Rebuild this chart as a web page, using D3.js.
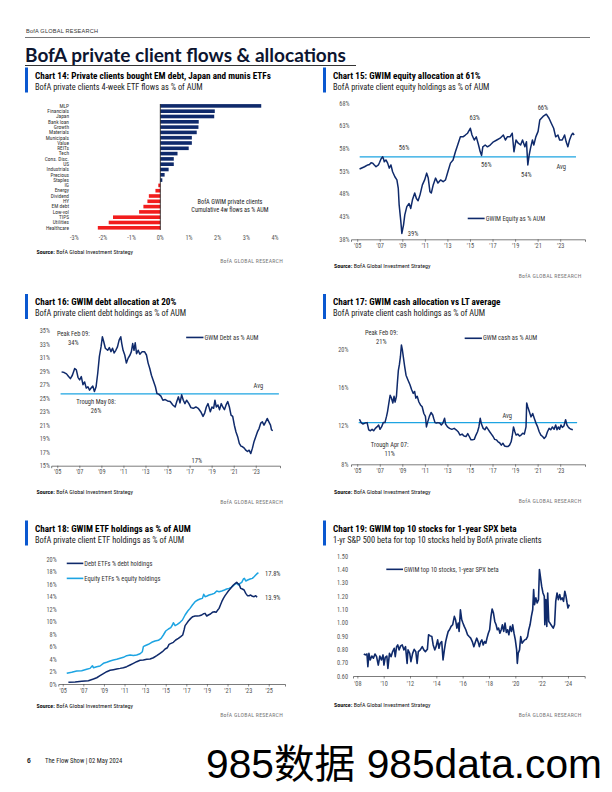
<!DOCTYPE html>
<html><head><meta charset="utf-8">
<script src="https://cdn.jsdelivr.net/npm/d3@7"></script>
<style>body{margin:0;background:#fff}svg{display:block}</style>
</head><body><svg id="page" width="612" height="792"></svg>
<script>
// ---------------- DATA ----------------
const flowCategories = ["MLP","Financials","Japan","Bank loan","Growth","Materials","Municipals","Value","REITs","Tech","Cons. Disc.","US","Industrials","Precious","Staples","IG","Energy","Dividend","HY","EM debt","Low-vol","TIPS","Utilities","Healthcare"];
const flowValues = [3.52,1.90,1.88,1.34,1.33,1.27,1.10,1.10,0.99,0.60,0.47,0.47,0.29,0.15,0.07,-0.07,-0.17,-0.40,-0.45,-0.59,-0.74,-1.65,-1.80,-2.18];
const flowTicks = [-3,-2,-1,0,1,2,3,4];

const equitySeries = [[2005.21,53.5],[2005.65,54.0],[2005.94,54.4],[2006.09,54.5],[2006.23,54.9],[2006.38,54.8],[2006.52,54.4],[2006.67,54.0],[2006.88,54.4],[2006.99,55.0],[2007.11,55.7],[2007.26,56.2],[2007.35,55.6],[2007.4,55.1],[2007.55,55.5],[2007.7,54.8],[2007.84,53.7],[2007.99,54.4],[2008.14,52.9],[2008.34,51.8],[2008.52,51.1],[2008.64,49.3],[2008.72,45.6],[2008.87,41.9],[2008.96,39.3],[2009.11,41.2],[2009.22,43.4],[2009.4,45.2],[2009.6,45.9],[2009.75,44.8],[2009.9,46.7],[2010.1,48.2],[2010.25,47.0],[2010.4,46.5],[2010.57,47.8],[2010.78,50.0],[2010.98,51.1],[2011.16,52.6],[2011.3,51.5],[2011.45,48.5],[2011.57,48.2],[2011.74,50.0],[2011.95,51.5],[2012.16,50.4],[2012.39,51.1],[2012.62,50.7],[2012.83,51.1],[2013.04,52.9],[2013.27,54.8],[2013.5,55.5],[2013.71,57.3],[2013.91,58.8],[2014.15,60.6],[2014.38,60.6],[2014.59,61.0],[2014.79,61.4],[2015.03,62.5],[2015.18,61.0],[2015.38,59.9],[2015.56,60.6],[2015.76,58.8],[2015.91,57.3],[2016.03,56.5],[2016.14,58.4],[2016.35,58.8],[2016.55,58.4],[2016.79,58.8],[2017.08,59.5],[2017.38,59.9],[2017.67,60.3],[2017.96,61.0],[2018.14,59.9],[2018.31,60.6],[2018.55,60.6],[2018.75,61.4],[2018.9,57.3],[2019.08,59.9],[2019.28,59.2],[2019.49,58.8],[2019.66,59.9],[2019.87,58.4],[2020.01,59.5],[2020.13,54.4],[2020.25,56.6],[2020.37,58.1],[2020.54,59.9],[2020.66,58.8],[2020.84,60.6],[2021.04,61.8],[2021.19,64.3],[2021.48,65.1],[2021.77,65.6],[2022.01,64.7],[2022.21,63.6],[2022.42,62.5],[2022.6,60.6],[2022.8,61.0],[2022.95,59.9],[2023.18,59.9],[2023.39,61.0],[2023.53,59.5],[2023.68,58.4],[2023.83,59.9],[2024.0,61.0],[2024.12,61.4],[2024.24,61.0]];
const equityAvg = 56.2;

const debtSeries = [[2005.39,28.9],[2005.63,28.8],[2005.84,28.6],[2005.99,28.3],[2006.19,27.9],[2006.37,28.4],[2006.58,29.4],[2006.73,29.2],[2006.88,28.1],[2007.03,27.7],[2007.18,28.2],[2007.33,27.0],[2007.48,27.4],[2007.63,26.5],[2007.78,26.7],[2007.93,26.2],[2008.07,26.5],[2008.22,26.8],[2008.37,26.0],[2008.52,26.7],[2008.67,28.7],[2008.82,31.2],[2008.97,32.6],[2009.09,34.1],[2009.21,33.4],[2009.36,32.4],[2009.57,32.1],[2009.72,32.5],[2009.87,31.9],[2010.01,32.4],[2010.16,31.7],[2010.31,32.1],[2010.46,32.6],[2010.61,33.6],[2010.76,34.1],[2010.85,33.1],[2010.97,32.1],[2011.12,31.4],[2011.27,30.2],[2011.42,30.9],[2011.6,31.4],[2011.72,31.9],[2011.84,33.1],[2011.96,32.1],[2012.07,33.2],[2012.19,31.6],[2012.34,32.1],[2012.49,31.5],[2012.7,31.9],[2012.91,31.9],[2013.09,31.4],[2013.24,30.2],[2013.39,29.4],[2013.54,28.4],[2013.69,27.7],[2013.9,26.7],[2014.04,25.7],[2014.19,25.6],[2014.4,25.3],[2014.58,24.7],[2014.79,24.8],[2015.0,24.6],[2015.24,24.5],[2015.48,24.0],[2015.69,23.7],[2015.84,24.5],[2015.99,25.2],[2016.13,24.3],[2016.28,25.5],[2016.43,24.7],[2016.58,24.2],[2016.73,24.7],[2016.94,24.2],[2017.12,23.6],[2017.33,23.5],[2017.57,23.7],[2017.78,23.5],[2018.01,23.0],[2018.22,22.3],[2018.37,22.8],[2018.52,23.7],[2018.67,24.2],[2018.88,23.0],[2019.03,23.7],[2019.18,23.5],[2019.3,24.7],[2019.42,23.7],[2019.57,24.0],[2019.72,23.3],[2019.87,24.2],[2020.01,23.7],[2020.16,23.3],[2020.31,24.0],[2020.46,24.5],[2020.61,23.7],[2020.76,22.5],[2020.91,22.3],[2021.06,21.0],[2021.21,20.0],[2021.36,19.3],[2021.51,18.3],[2021.66,17.9],[2021.81,17.8],[2021.96,17.6],[2022.1,17.3],[2022.25,17.1],[2022.4,17.3],[2022.55,16.8],[2022.7,17.6],[2022.85,18.6],[2023.0,19.3],[2023.15,20.0],[2023.3,20.5],[2023.45,21.3],[2023.6,21.5],[2023.75,21.0],[2023.9,21.5],[2024.04,22.0],[2024.19,21.5],[2024.34,21.0],[2024.43,20.3],[2024.55,20.2]];
const debtAvg = 25.65;

const cashSeries = [[2005.2,12.7],[2005.35,12.35],[2005.5,12.2],[2005.7,12.3],[2005.88,12.35],[2006.02,11.6],[2006.17,11.5],[2006.32,11.65],[2006.46,11.5],[2006.61,11.75],[2006.75,11.9],[2006.9,12.1],[2007.02,11.65],[2007.16,11.9],[2007.31,12.35],[2007.46,12.35],[2007.6,13.0],[2007.69,13.5],[2007.81,14.4],[2007.92,15.2],[2008.04,14.9],[2008.16,14.4],[2008.27,15.1],[2008.36,14.5],[2008.48,15.1],[2008.57,16.6],[2008.65,17.8],[2008.74,18.4],[2008.83,19.2],[2008.92,20.45],[2009.01,19.9],[2009.09,19.2],[2009.21,18.2],[2009.33,17.3],[2009.5,16.8],[2009.68,16.3],[2009.82,15.8],[2009.97,15.4],[2010.09,15.6],[2010.2,14.9],[2010.32,15.1],[2010.47,14.5],[2010.61,14.2],[2010.76,14.0],[2010.91,13.3],[2011.05,13.0],[2011.14,11.9],[2011.26,12.45],[2011.4,13.0],[2011.55,13.4],[2011.7,13.15],[2011.78,12.8],[2011.9,12.35],[2012.02,12.3],[2012.16,12.35],[2012.31,12.3],[2012.46,12.1],[2012.6,12.3],[2012.75,12.8],[2012.84,12.2],[2013.01,11.9],[2013.19,11.75],[2013.39,11.65],[2013.6,11.75],[2013.77,11.6],[2013.95,11.4],[2014.12,11.05],[2014.3,11.15],[2014.47,10.95],[2014.65,10.9],[2014.8,11.2],[2014.94,10.9],[2015.09,10.55],[2015.23,10.55],[2015.38,10.6],[2015.53,11.05],[2015.67,11.4],[2015.79,11.9],[2015.91,12.8],[2016.02,12.2],[2016.17,11.75],[2016.32,11.6],[2016.46,11.9],[2016.61,11.65],[2016.75,11.4],[2016.9,11.15],[2017.05,10.9],[2017.19,10.6],[2017.34,10.55],[2017.49,10.35],[2017.63,10.25],[2017.78,10.0],[2017.92,10.2],[2018.07,9.9],[2018.22,9.85],[2018.36,9.85],[2018.51,10.0],[2018.65,10.35],[2018.74,10.9],[2018.86,11.9],[2018.98,11.4],[2019.09,11.05],[2019.24,11.15],[2019.39,10.95],[2019.53,11.05],[2019.68,11.25],[2019.82,11.15],[2019.97,11.9],[2020.03,14.4],[2020.12,14.0],[2020.26,13.5],[2020.41,12.95],[2020.56,13.3],[2020.7,12.8],[2020.85,12.3],[2021.0,11.9],[2021.14,11.4],[2021.29,11.05],[2021.44,10.9],[2021.58,10.7],[2021.73,10.9],[2021.87,11.4],[2022.02,11.75],[2022.16,11.6],[2022.31,11.9],[2022.46,11.65],[2022.6,12.1],[2022.72,11.6],[2022.84,11.9],[2022.95,11.65],[2023.07,12.1],[2023.19,11.85],[2023.33,12.0],[2023.48,12.65],[2023.6,12.1],[2023.71,11.9],[2023.83,11.75],[2023.98,11.65],[2024.12,11.6]];
const cashAvg = 12.35;

const debtEtfSeries = [[2005.55,0.27],[2006.2,0.32],[2006.84,0.43],[2007.49,0.53],[2007.98,0.8],[2008.3,1.0],[2008.62,1.33],[2008.95,1.65],[2009.27,1.97],[2009.6,2.19],[2009.92,2.29],[2010.24,2.4],[2010.57,2.5],[2010.89,2.61],[2011.21,2.77],[2011.54,3.04],[2011.86,3.31],[2012.18,3.57],[2012.51,3.79],[2012.83,3.84],[2013.16,3.95],[2013.48,4.0],[2013.8,4.2],[2014.13,4.53],[2014.45,4.9],[2014.68,5.17],[2014.94,5.6],[2015.16,5.8],[2015.32,6.35],[2015.52,6.5],[2015.74,6.67],[2015.97,7.04],[2016.23,7.3],[2016.46,7.57],[2016.65,7.84],[2016.78,8.64],[2016.88,9.33],[2017.04,9.7],[2017.2,10.08],[2017.43,10.5],[2017.62,10.77],[2017.85,10.88],[2018.07,10.88],[2018.27,10.93],[2018.5,11.04],[2018.69,11.25],[2018.82,11.3],[2018.98,10.88],[2019.14,11.04],[2019.34,11.2],[2019.53,11.47],[2019.72,11.57],[2019.89,11.47],[2020.05,11.84],[2020.18,12.1],[2020.31,12.64],[2020.44,13.17],[2020.6,13.7],[2020.76,14.13],[2020.92,14.5],[2021.08,14.88],[2021.25,15.2],[2021.41,15.52],[2021.57,15.84],[2021.73,16.05],[2021.89,16.27],[2021.99,16.11],[2022.12,15.95],[2022.28,15.3],[2022.44,15.2],[2022.61,15.04],[2022.77,14.5],[2022.93,14.13],[2023.09,14.13],[2023.25,14.24],[2023.41,14.03],[2023.58,13.97],[2023.74,14.13],[2023.87,13.87]];
const equityEtfSeries = [[2005.39,1.71],[2005.87,1.87],[2006.36,2.08],[2006.84,2.13],[2007.33,2.35],[2007.65,2.5],[2007.88,2.93],[2007.98,2.61],[2008.3,2.77],[2008.62,2.88],[2008.95,3.31],[2009.27,3.47],[2009.6,3.68],[2009.92,3.84],[2010.24,3.95],[2010.57,4.11],[2010.89,4.27],[2011.21,4.53],[2011.54,4.64],[2011.86,4.55],[2012.18,4.64],[2012.51,4.85],[2012.73,5.17],[2012.83,5.97],[2012.99,6.13],[2013.32,6.35],[2013.64,6.67],[2013.96,6.88],[2014.29,6.99],[2014.55,7.3],[2014.77,7.84],[2015.0,8.48],[2015.26,8.8],[2015.49,9.01],[2015.65,9.44],[2015.74,9.81],[2015.91,9.33],[2016.13,9.55],[2016.39,9.87],[2016.62,10.24],[2016.88,11.04],[2017.14,11.68],[2017.36,12.1],[2017.59,12.64],[2017.85,13.17],[2018.11,13.44],[2018.33,13.6],[2018.56,13.7],[2018.69,14.35],[2018.82,13.97],[2019.01,14.08],[2019.21,14.24],[2019.47,14.35],[2019.72,14.5],[2019.95,14.88],[2020.18,14.77],[2020.44,14.88],[2020.7,15.04],[2020.92,15.2],[2021.15,15.3],[2021.34,15.47],[2021.57,15.73],[2021.73,16.0],[2021.89,16.1],[2022.06,15.84],[2022.22,16.1],[2022.38,16.27],[2022.54,16.8],[2022.64,16.9],[2022.77,16.48],[2022.96,16.64],[2023.19,16.8],[2023.41,16.9],[2023.58,17.17],[2023.74,17.44],[2023.9,17.7],[2024.0,17.8]];

const betaSeries = [[2008.49,0.765],[2008.61,0.758],[2008.73,0.765],[2008.8,0.67],[2008.88,0.77],[2008.98,0.72],[2009.1,0.75],[2009.22,0.733],[2009.34,0.765],[2009.46,0.745],[2009.59,0.682],[2009.71,0.75],[2009.83,0.72],[2009.95,0.758],[2010.02,0.682],[2010.12,0.74],[2010.24,0.75],[2010.32,0.657],[2010.44,0.77],[2010.56,0.745],[2010.68,0.783],[2010.8,0.808],[2010.88,0.745],[2010.98,0.82],[2011.07,0.833],[2011.17,0.796],[2011.29,0.826],[2011.41,0.833],[2011.54,0.796],[2011.66,0.82],[2011.78,0.695],[2011.85,0.796],[2011.98,0.77],[2012.07,0.708],[2012.2,0.77],[2012.32,0.8],[2012.44,0.783],[2012.54,0.695],[2012.63,0.783],[2012.78,0.796],[2012.93,0.82],[2013.05,0.796],[2013.17,0.783],[2013.32,0.8],[2013.41,0.909],[2013.54,0.901],[2013.66,0.896],[2013.76,0.833],[2013.88,0.796],[2013.98,0.82],[2014.1,0.871],[2014.2,0.808],[2014.29,0.846],[2014.41,0.858],[2014.51,0.72],[2014.61,0.796],[2014.71,0.858],[2014.8,0.896],[2014.9,0.934],[2015.0,0.947],[2015.12,0.972],[2015.24,0.984],[2015.37,1.047],[2015.46,1.022],[2015.56,0.959],[2015.66,0.997],[2015.73,0.934],[2015.83,1.097],[2015.93,1.022],[2016.02,0.997],[2016.12,0.972],[2016.24,0.947],[2016.37,0.909],[2016.49,0.896],[2016.61,0.884],[2016.73,0.858],[2016.85,0.82],[2016.98,0.858],[2017.07,0.884],[2017.17,0.858],[2017.27,0.82],[2017.37,0.858],[2017.46,0.871],[2017.56,0.833],[2017.66,0.858],[2017.76,0.846],[2017.85,0.884],[2017.95,0.921],[2018.05,0.947],[2018.15,1.047],[2018.24,1.103],[2018.34,1.072],[2018.44,1.009],[2018.54,0.984],[2018.63,0.947],[2018.73,0.959],[2018.83,0.921],[2018.93,0.947],[2019.02,0.984],[2019.12,0.934],[2019.22,0.997],[2019.32,0.926],[2019.41,0.947],[2019.51,0.909],[2019.61,0.972],[2019.71,0.934],[2019.8,0.984],[2019.9,0.921],[2020.0,0.871],[2020.1,0.796],[2020.15,0.695],[2020.22,0.77],[2020.32,0.796],[2020.41,0.896],[2020.51,0.846],[2020.61,0.858],[2020.71,0.871],[2020.83,0.876],[2020.93,0.896],[2021.02,0.947],[2021.12,0.984],[2021.22,1.047],[2021.32,1.097],[2021.39,1.248],[2021.46,1.135],[2021.56,1.186],[2021.66,1.148],[2021.76,1.173],[2021.83,1.399],[2021.9,1.349],[2022.0,1.274],[2022.1,1.223],[2022.2,1.198],[2022.24,0.984],[2022.32,1.173],[2022.39,0.972],[2022.46,1.223],[2022.54,1.009],[2022.63,0.997],[2022.76,0.977],[2022.88,0.959],[2022.98,0.984],[2023.07,1.16],[2023.17,1.223],[2023.27,1.173],[2023.37,1.211],[2023.46,1.173],[2023.56,1.186],[2023.66,1.16],[2023.76,1.236],[2023.85,1.198],[2023.93,1.148],[2024.0,1.11],[2024.1,1.135]];

const yearTicks05_23 = [2005,2007,2009,2011,2013,2015,2017,2019,2021,2023];
const yearTicks05_25 = [2005,2007,2009,2011,2013,2015,2017,2019,2021,2023,2025];
const yearTicks08_24 = [2008,2010,2012,2014,2016,2018,2020,2022,2024];
const equityTicks = [38,43,48,53,58,63,68];
const debtTicks = [15,17,19,21,23,25,27,29,31,33,35];
const cashTicks = [8,12,16,20];
const etfTicks = [0,2,4,6,8,10,12,14,16,18,20];
const betaTicks = [0.6,0.7,0.8,0.9,1.0,1.1,1.2,1.3,1.4,1.5];

// ---------------- STYLE ----------------
const NAVY = "#0f2a6b", LIGHT = "#1da4e2", RED = "#f21d1d", MARK = "#0a58d0";
const NARROW = "'Liberation Sans Narrow','Roboto Condensed','Liberation Sans',Arial,sans-serif";
const svg = d3.select("#page");

// header
svg.append("text").attr("x",26).attr("y",33).attr("font-family","'Liberation Sans',Arial,sans-serif").attr("font-size",5.6).attr("fill","#333").attr("letter-spacing",0.2).text("BofA GLOBAL RESEARCH");
svg.append("line").attr("x1",25).attr("x2",590).attr("y1",37.5).attr("y2",37.5).attr("stroke","#555").attr("stroke-width",0.8);
svg.append("text").attr("x",25).attr("y",61.5).attr("font-family","Lato,'Open Sans',sans-serif").attr("font-weight",700).attr("font-size",19).attr("fill","#0d1530").text("BofA private client flows & allocations");
svg.append("line").attr("x1",25).attr("x2",356).attr("y1",65.5).attr("y2",65.5).attr("stroke","#333").attr("stroke-width",1);

function chartHeader(x, y, title, subtitle){
  svg.append("rect").attr("x",x-10).attr("y",y-11).attr("width",3).attr("height",25).attr("fill",MARK);
  svg.append("text").attr("x",x).attr("y",y).attr("font-family",NARROW).attr("font-weight",700).attr("font-size",9.2).attr("fill","#000").text(title);
  svg.append("text").attr("x",x).attr("y",y+11).attr("font-family",NARROW).attr("font-size",8.4).attr("fill","#222").text(subtitle);
}
function chartFooter(x, y, right){
  const t = svg.append("text").attr("x",x).attr("y",y).attr("font-family",NARROW).attr("font-size",6).attr("fill","#111");
  t.append("tspan").attr("font-weight",700).text("Source:");
  t.append("tspan").text(" BofA Global Investment Strategy");
  svg.append("text").attr("x",right).attr("y",y+9.5).attr("text-anchor","end").attr("font-family",NARROW).attr("font-size",5.8).attr("fill","#777").attr("letter-spacing",0.25).text("BofA GLOBAL RESEARCH");
}

// ---------------- CHART 14 ----------------
chartHeader(35, 78.5, "Chart 14: Private clients bought EM debt, Japan and munis ETFs", "BofA private clients 4-week ETF flows as % of AUM");
{
  const x = d3.scaleLinear().domain([-3,4]).range([74.3,275]);
  const y = d3.scaleBand().domain(flowCategories).range([104.1,229.6]).paddingInner(0.32);
  const g = svg.append("g");
  g.selectAll("rect.bar").data(flowCategories).join("rect")
    .attr("x",(d,i)=>x(Math.min(0,flowValues[i])))
    .attr("y",d=>y(d))
    .attr("width",(d,i)=>Math.abs(x(flowValues[i])-x(0)))
    .attr("height",y.bandwidth())
    .attr("fill",(d,i)=>flowValues[i]>=0?NAVY:RED);
  g.append("line").attr("x1",x(0)).attr("x2",x(0)).attr("y1",104).attr("y2",230).attr("stroke","#111").attr("stroke-width",0.8);
  g.selectAll("text.cat").data(flowCategories).join("text")
    .attr("x",69).attr("y",d=>y(d)+y.bandwidth()/2+1.8).attr("text-anchor","end")
    .attr("font-family",NARROW).attr("font-size",5.4).attr("fill","#333").text(d=>d);
  g.selectAll("text.tick").data(flowTicks).join("text")
    .attr("x",d=>x(d)).attr("y",240).attr("text-anchor","middle")
    .attr("font-family",NARROW).attr("font-size",6.3).attr("fill","#555").text(d=>d+"%");
  g.append("text").attr("x",x(2.43)).attr("y",204).attr("text-anchor","middle").attr("font-family",NARROW).attr("font-size",6.3).attr("fill","#222").text("BofA GWIM private clients");
  g.append("text").attr("x",x(2.43)).attr("y",211.5).attr("text-anchor","middle").attr("font-family",NARROW).attr("font-size",6.3).attr("fill","#222").text("Cumulative 4w flows as % AUM");
}
chartFooter(36.5, 253.5, 283);

// ---------------- LINE CHART HELPER ----------------
function lineChart(c){
  const g = svg.append("g");
  const x = d3.scaleLinear().domain(c.xDomain).range(c.xRange);
  const y = d3.scaleLinear().domain(c.yDomain).range(c.yRange);
  const xa = g.append("g").attr("transform",`translate(0,${c.yRange[0]})`)
    .call(d3.axisBottom(x).tickValues(c.xTicks).tickFormat(d=>"'"+String(d).slice(2)).tickSize(2.5).tickPadding(c.xPad||1.8));
  xa.select(".domain").attr("stroke","#444").attr("stroke-width",0.7);
  xa.selectAll(".tick line").attr("stroke","#444").attr("stroke-width",0.6);
  xa.selectAll("text").attr("font-family",NARROW).attr("font-size",6.3).attr("fill","#555");
  const ya = g.append("g").attr("transform",`translate(${c.xRange[0]},0)`)
    .call(d3.axisLeft(y).tickValues(c.yTicks).tickFormat(c.yFormat).tickSize(0).tickPadding(c.yPad));
  ya.select(".domain").remove();
  ya.selectAll("text").attr("font-family",NARROW).attr("font-size",6.3).attr("fill","#555");
  if (c.avg !== undefined){
    g.append("line").attr("x1",x(c.avgRange[0])).attr("x2",x(c.avgRange[1])).attr("y1",y(c.avg)).attr("y2",y(c.avg)).attr("stroke",LIGHT).attr("stroke-width",1.3);
  }
  const line = d3.line().x(d=>x(d[0])).y(d=>y(d[1]));
  c.series.forEach(s=>{
    g.append("path").datum(s.data).attr("d",line).attr("fill","none").attr("stroke",s.color).attr("stroke-width",s.width||1.5).attr("stroke-linejoin","round");
  });
  (c.legend||[]).forEach(l=>{
    g.append("line").attr("x1",x(l.x0)).attr("x2",x(l.x1)).attr("y1",y(l.y)).attr("y2",y(l.y)).attr("stroke",l.color).attr("stroke-width",1.6);
    g.append("text").attr("x",x(l.x1)+1).attr("y",y(l.y)+2.2).attr("font-family",NARROW).attr("font-size",6.5).attr("fill","#333").text(l.text);
  });
  (c.notes||[]).forEach(n=>{
    g.append("text").attr("x",x(n.x)).attr("y",y(n.y)+2.2).attr("text-anchor",n.anchor||"middle").attr("font-family",NARROW).attr("font-size",6.5).attr("fill","#333").text(n.t);
  });
}

// ---------------- CHART 15 ----------------
chartHeader(333, 78.5, "Chart 15: GWIM equity allocation at 61%", "BofA private client equity holdings as % of AUM");
lineChart({xDomain:[2004.45,2025.2], xRange:[351,585], yDomain:[38,68], yRange:[239.3,103.3],
  xTicks:yearTicks05_23, yTicks:equityTicks, yFormat:d=>d+"%", yPad:1.5,
  avg:equityAvg, avgRange:[2005.22,2024.4],
  series:[{data:equitySeries,color:NAVY}],
  legend:[{x0:2014.8,x1:2016.3,y:42.6,color:NAVY,text:"GWIM Equity as % AUM"}],
  notes:[{t:"56%",x:2009.15,y:58.2},{t:"63%",x:2015.42,y:64.7},{t:"66%",x:2021.47,y:67.0},{t:"39%",x:2009.95,y:39.3},{t:"56%",x:2016.45,y:54.5},{t:"54%",x:2020.0,y:52.3},{t:"Avg",x:2023.1,y:54.0}]
});
chartFooter(334, 268, 581.5);

// ---------------- CHART 16 ----------------
chartHeader(35, 305, "Chart 16: GWIM debt allocation at 20%", "BofA private client debt holdings as % of AUM");
lineChart({xDomain:[2004.45,2025.2], xRange:[51.2,280], yDomain:[15,35], yRange:[465.7,330.7],
  xTicks:yearTicks05_23, yTicks:debtTicks, yFormat:d=>d+"%", yPad:1.3,
  avg:debtAvg, avgRange:[2005.3,2025.1],
  series:[{data:debtSeries,color:NAVY}],
  legend:[{x0:2016.69,x1:2018.26,y:34.0,color:NAVY,text:"GWM Debt as % AUM"}],
  notes:[{t:"Peak Feb 09:",x:2006.46,y:34.6},{t:"34%",x:2006.46,y:33.2},{t:"Trough May 08:",x:2008.52,y:24.4},{t:"26%",x:2008.52,y:23.15},{t:"Avg",x:2023.24,y:26.85},{t:"17%",x:2017.65,y:15.74}]
});
chartFooter(36.5, 494, 283);

// ---------------- CHART 17 ----------------
chartHeader(333, 305, "Chart 17: GWIM cash allocation vs LT average", "BofA private client cash holdings as % of AUM");
lineChart({xDomain:[2004.45,2025.2], xRange:[351,585], yDomain:[8,20], yRange:[464.3,349.3],
  xTicks:yearTicks05_23, yTicks:cashTicks, yFormat:d=>d+"%", yPad:2.6,
  avg:cashAvg, avgRange:[2005.13,2024.5],
  series:[{data:cashSeries,color:NAVY}],
  legend:[{x0:2014.53,x1:2016.06,y:21.15,color:NAVY,text:"GWM cash as % AUM"}],
  notes:[{t:"Peak Feb 09:",x:2007.14,y:21.73},{t:"21%",x:2007.14,y:20.8},{t:"Trough Apr 07:",x:2007.88,y:10.0},{t:"11%",x:2007.88,y:9.07},{t:"Avg",x:2018.3,y:13.07}]
});
chartFooter(334, 493.5, 581.5);

// ---------------- CHART 18 ----------------
chartHeader(35, 531.5, "Chart 18: GWIM ETF holdings as % of AUM", "BofA private client ETF holdings as % of AUM");
lineChart({xDomain:[2004.57,2026.58], xRange:[58.3,285], yDomain:[0,20], yRange:[684,559],
  xTicks:yearTicks05_25, yTicks:etfTicks, yFormat:d=>d+"%", yPad:1.6,
  series:[{data:equityEtfSeries,color:LIGHT},{data:debtEtfSeries,color:NAVY}],
  legend:[{x0:2005.39,x1:2007.0,y:19.3,color:NAVY,text:"Debt ETFs % debt holdings"},{x0:2005.39,x1:2007.0,y:16.9,color:LIGHT,text:"Equity ETFs % equity holdings"}],
  notes:[{t:"17.8%",x:2024.64,y:17.7,anchor:"start"},{t:"13.9%",x:2024.64,y:13.8,anchor:"start"}]
});
chartFooter(36.5, 707.5, 283);

// ---------------- CHART 19 ----------------
chartHeader(333, 531.5, "Chart 19: GWIM top 10 stocks for 1-year SPX beta", "1-yr S&P 500 beta for top 10 stocks held by BofA private clients");
lineChart({xDomain:[2007.67,2025.27], xRange:[353,584.7], yDomain:[0.6,1.5], yRange:[676,556],
  xTicks:yearTicks08_24, yTicks:betaTicks, yFormat:d3.format(".2f"), yPad:5, xPad:3.5,
  series:[{data:betaSeries,color:NAVY,width:1.6}],
  legend:[{x0:2010.2,x1:2011.47,y:1.40,color:NAVY,text:"GWIM top 10 stocks, 1-year SPX beta"}]
});
chartFooter(334, 707, 581.5);

// ---------------- FOOTER ----------------
svg.append("text").attr("x",27).attr("y",763).attr("font-family","'Liberation Sans',Arial,sans-serif").attr("font-weight",700).attr("font-size",6.8).attr("fill","#222").text("6");
svg.append("text").attr("x",45).attr("y",763).attr("font-family",NARROW).attr("font-size",6.6).attr("fill","#222").text("The Flow Show | 02 May 2024");
svg.append("text").attr("x",206).attr("y",778).attr("font-family","'Liberation Sans',Arial,'Noto Sans CJK SC',sans-serif").attr("font-size",40).attr("textLength",396).attr("lengthAdjust","spacingAndGlyphs").attr("fill","#000").text("985数据 985data.com");
</script></body></html>
